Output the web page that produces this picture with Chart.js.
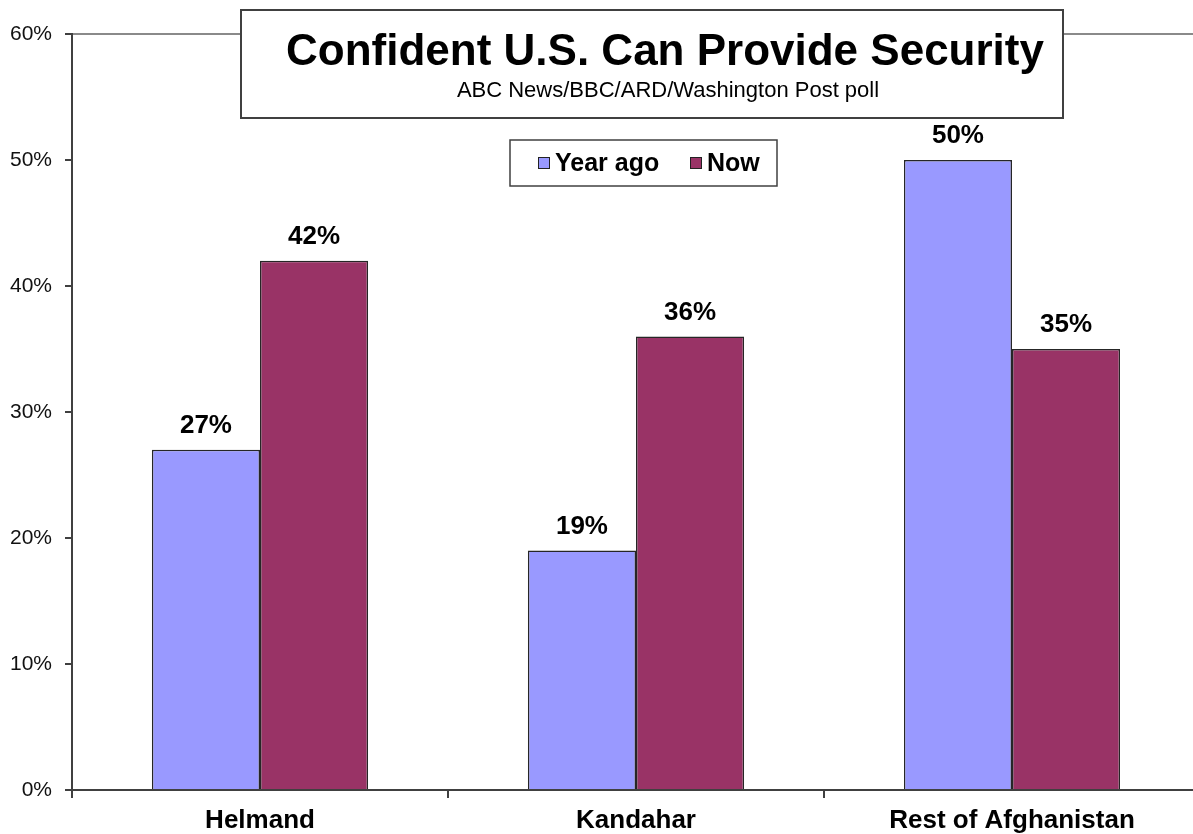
<!DOCTYPE html>
<html>
<head>
<meta charset="utf-8">
<script src="https://cdn.jsdelivr.net/npm/chart.js@4/dist/chart.umd.min.js"></script>
<style>
  html, body { margin: 0; padding: 0; background: #fff; overflow: hidden; }
  #wrap { width: 1210px; height: 834px; }
</style>
</head>
<body>
<div id="wrap"><canvas id="chart" width="1210" height="834"></canvas></div>
<script>
// chart data
var categories = ['Helmand', 'Kandahar', 'Rest of Afghanistan'];
var yearAgo = [27, 19, 50];
var now = [42, 36, 35];
var seriesNames = ['Year ago', 'Now'];
var yTicks = [0, 10, 20, 30, 40, 50, 60];
var titleText = 'Confident U.S. Can Provide Security';
var subtitleText = 'ABC News/BBC/ARD/Washington Post poll';

var FONT = '"Liberation Sans", Arial, sans-serif';
var AXIS = '#404040';

// value labels above each bar
var barLabels = {
  id: 'barLabels',
  afterDatasetsDraw: function (chart) {
    var ctx = chart.ctx;
    ctx.save();
    ctx.font = 'bold 26px ' + FONT;
    ctx.fillStyle = '#000';
    ctx.textAlign = 'center';
    ctx.textBaseline = 'bottom';
    chart.data.datasets.forEach(function (ds, i) {
      chart.getDatasetMeta(i).data.forEach(function (bar, j) {
        ctx.fillText(ds.data[j] + '%', bar.x, bar.y - 11);
      });
    });
    ctx.restore();
  }
};

// boxed title and boxed legend, drawn over the plot
var boxes = {
  id: 'boxes',
  afterDraw: function (chart) {
    var ctx = chart.ctx;
    ctx.save();

    // title box
    ctx.fillStyle = '#fff';
    ctx.fillRect(241, 10, 822, 108);
    ctx.strokeStyle = AXIS;
    ctx.lineWidth = 2;
    ctx.strokeRect(241, 10, 822, 108);
    ctx.fillStyle = '#000';
    ctx.textAlign = 'center';
    ctx.textBaseline = 'middle';
    ctx.font = 'bold 44px ' + FONT;
    ctx.fillText(titleText, 665, 53);
    ctx.font = '22px ' + FONT;
    ctx.fillText(subtitleText, 668, 91);

    // legend box
    ctx.fillStyle = '#fff';
    ctx.fillRect(510, 140, 267, 46);
    ctx.lineWidth = 1.5;
    ctx.strokeRect(510, 140, 267, 46);
    var markerX = [538, 690];
    ctx.font = 'bold 25px ' + FONT;
    ctx.textAlign = 'left';
    chart.data.datasets.forEach(function (ds, i) {
      ctx.fillStyle = ds.backgroundColor;
      ctx.fillRect(markerX[i], 157, 11, 11);
      ctx.strokeStyle = '#222';
      ctx.lineWidth = 1;
      ctx.strokeRect(markerX[i] + 0.5, 157.5, 11, 11);
      ctx.fillStyle = '#000';
      ctx.fillText(ds.label, markerX[i] + 17, 164);
    });
    ctx.restore();
  }
};

var chart = new Chart(document.getElementById('chart').getContext('2d'), {
  type: 'bar',
  data: {
    labels: categories,
    datasets: [
      {
        label: seriesNames[0],
        data: yearAgo,
        backgroundColor: '#9999FF',
        borderColor: '#262626',
        borderWidth: 1.5
      },
      {
        label: seriesNames[1],
        data: now,
        backgroundColor: '#993366',
        borderColor: '#262626',
        borderWidth: 1.5
      }
    ]
  },
  options: {
    responsive: false,
    animation: false,
    layout: { padding: { top: 34, right: 10, bottom: 0, left: 0 } },
    categoryPercentage: 0.575,
    barPercentage: 1,
    plugins: {
      legend: { display: false },
      title: { display: false },
      tooltip: { enabled: false }
    },
    scales: {
      x: {
        offset: true,
        grid: {
          offset: true,
          drawOnChartArea: false,
          tickLength: 8,
          tickColor: AXIS,
          lineWidth: 2
        },
        border: { color: AXIS, width: 2 },
        ticks: {
          color: '#000',
          padding: 7,
          font: { family: FONT, size: 26, weight: 'bold' }
        },
        afterFit: function (scale) { scale.height = 44; }
      },
      y: {
        min: yTicks[0],
        max: yTicks[yTicks.length - 1],
        afterBuildTicks: function (scale) {
          scale.ticks = yTicks.map(function (v) { return { value: v }; });
        },
        grid: {
          color: function (c) {
            return c.tick && c.tick.value === 60 ? '#8a8a8a' : 'rgba(0,0,0,0)';
          },
          tickColor: AXIS,
          tickLength: 7,
          lineWidth: 2
        },
        border: { color: AXIS, width: 2 },
        ticks: {
          color: '#111',
          padding: 13,
          font: { family: FONT, size: 21 },
          callback: function (v) { return v + '%'; }
        },
        afterFit: function (scale) { scale.width = 72; }
      }
    }
  },
  plugins: [barLabels, boxes]
});
</script>
</body>
</html>
